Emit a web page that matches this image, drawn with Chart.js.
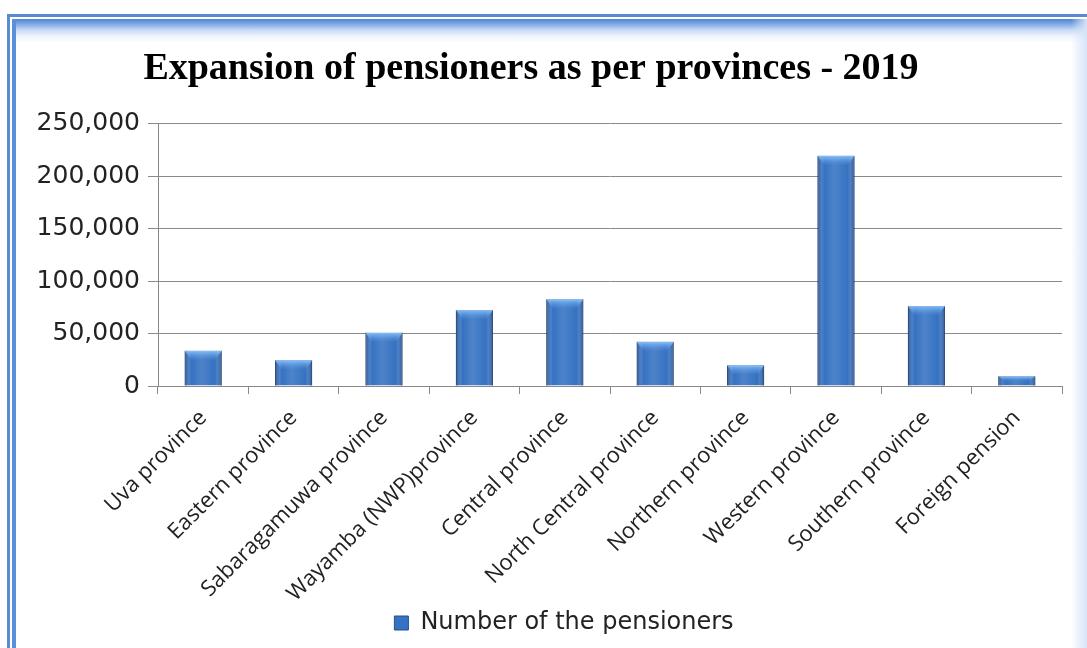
<!DOCTYPE html>
<html>
<head>
<meta charset="utf-8">
<script src="https://cdn.jsdelivr.net/npm/chart.js@4"></script>
<style>
    html, body { margin: 0; padding: 0; background: #fff; overflow: hidden; }
    body { width: 1087px; height: 648px; position: relative; }
    .frame-outer { position: absolute; left: 7px; top: 14px; right: -10px; bottom: -10px;
        border-left: 3px solid #5a8ad4; border-top: 3px solid #5a8ad4; }
    .frame-inner { position: absolute; left: 12px; top: 19px; right: 0; bottom: -10px;
        border-left: 4px solid #5b8fd8;
        background: linear-gradient(to bottom, #4f84d2 0px, #7ea8e4 5px, #c8daf6 11px, #eef3fc 17px, #fff 24px); }
    .frame-right { position: absolute; right: 0; top: 19px; width: 16px; bottom: 0;
        background: linear-gradient(to right, rgba(255,255,255,0), #d6e4f8); }
    #chart { position: absolute; left: 0; top: 0; }
</style>
</head>
<body>
<div class="frame-outer"></div>
<div class="frame-inner"></div>
<div class="frame-right"></div>
<canvas id="chart" width="1087" height="648"></canvas>
<script>
const provinces = [
    'Uva province',
    'Eastern province',
    'Sabaragamuwa province',
    'Wayamba (NWP)province',
    'Central province',
    'North Central province',
    'Northern province',
    'Western province',
    'Southern province',
    'Foreign pension'
];
const pensioners = [33500, 24600, 50800, 72500, 82700, 42100, 19800, 219300, 76300, 9300];
const yTicks = [0, 50000, 100000, 150000, 200000, 250000];

// gives the bars a rounded, lit look like the original
const bevelPlugin = {
    id: 'bevel',
    afterLayout(chart) {
        // legend sits a little right of the canvas centre in the original
        chart.legend.left += 33;
        chart.legend.right += 33;
    },
    afterDatasetsDraw(chart) {
        const ctx = chart.ctx;
        chart.getDatasetMeta(0).data.forEach(bar => {
            const left = bar.x - bar.width / 2;
            const right = bar.x + bar.width / 2;
            const top = bar.y;
            const bottom = bar.base;
            const g = ctx.createLinearGradient(left, 0, right, 0);
            g.addColorStop(0, 'rgba(15,40,90,0.55)');
            g.addColorStop(0.18, 'rgba(255,255,255,0.0)');
            g.addColorStop(0.45, 'rgba(255,255,255,0.12)');
            g.addColorStop(0.82, 'rgba(255,255,255,0.0)');
            g.addColorStop(1, 'rgba(15,40,90,0.55)');
            ctx.save();
            ctx.fillStyle = g;
            ctx.fillRect(left, top, right - left, bottom - top);
            const capH = Math.min(9, (bottom - top) / 2);
            const cg = ctx.createLinearGradient(0, top, 0, top + capH);
            cg.addColorStop(0, 'rgba(140,195,250,0.95)');
            cg.addColorStop(1, 'rgba(90,150,225,0.1)');
            ctx.fillStyle = cg;
            ctx.beginPath();
            ctx.moveTo(left, top);
            ctx.lineTo(right, top);
            ctx.lineTo(right - 6, top + capH);
            ctx.lineTo(left + 6, top + capH);
            ctx.closePath();
            ctx.fill();
            ctx.restore();
        });
    }
};

new Chart(document.getElementById('chart'), {
    type: 'bar',
    data: {
        labels: provinces,
        datasets: [{
            label: 'Number of the pensioners',
            data: pensioners,
            backgroundColor: '#3572c2',
            borderColor: '#23508f',
            borderWidth: 1,
            categoryPercentage: 1,
            barPercentage: 0.41
        }]
    },
    options: {
        responsive: false,
        animation: false,
        layout: { padding: { left: 0, right: 25, top: 0, bottom: 3 } },
        plugins: {
            title: {
                display: true,
                text: 'Expansion of pensioners as per provinces - 2019',
                color: '#000',
                font: { family: '"Liberation Serif", "Times New Roman", serif', size: 38, weight: 'bold' },
                padding: { top: 46, bottom: 32 }
            },
            legend: {
                position: 'bottom',
                labels: {
                    color: '#222',
                    font: { family: '"DejaVu Sans", sans-serif', size: 24 },
                    boxWidth: 14,
                    boxHeight: 14,
                    padding: 4
                }
            },
            tooltip: { enabled: false }
        },
        scales: {
            x: {
                grid: { offset: true, drawOnChartArea: false, drawTicks: true, tickLength: 8, color: '#888' },
                border: { color: '#888' },
                ticks: {
                    color: '#222',
                    maxRotation: 45,
                    minRotation: 45,
                    padding: 11,
                    font: { family: '"Open Sans", sans-serif', size: 22 }
                },
                afterFit(scale) { scale.height = 221; }
            },
            y: {
                min: 0,
                max: 250000,
                afterBuildTicks(scale) { scale.ticks = yTicks.map(v => ({ value: v })); },
                grid: { color: '#8a8a8a', tickLength: 10 },
                border: { color: '#888' },
                ticks: {
                    color: '#222',
                    padding: 8,
                    font: { family: '"DejaVu Sans", sans-serif', size: 25 },
                    callback: v => v.toLocaleString('en-US')
                },
                afterFit(scale) { scale.width = 158; }
            }
        }
    },
    plugins: [bevelPlugin]
});
</script>
</body>
</html>
